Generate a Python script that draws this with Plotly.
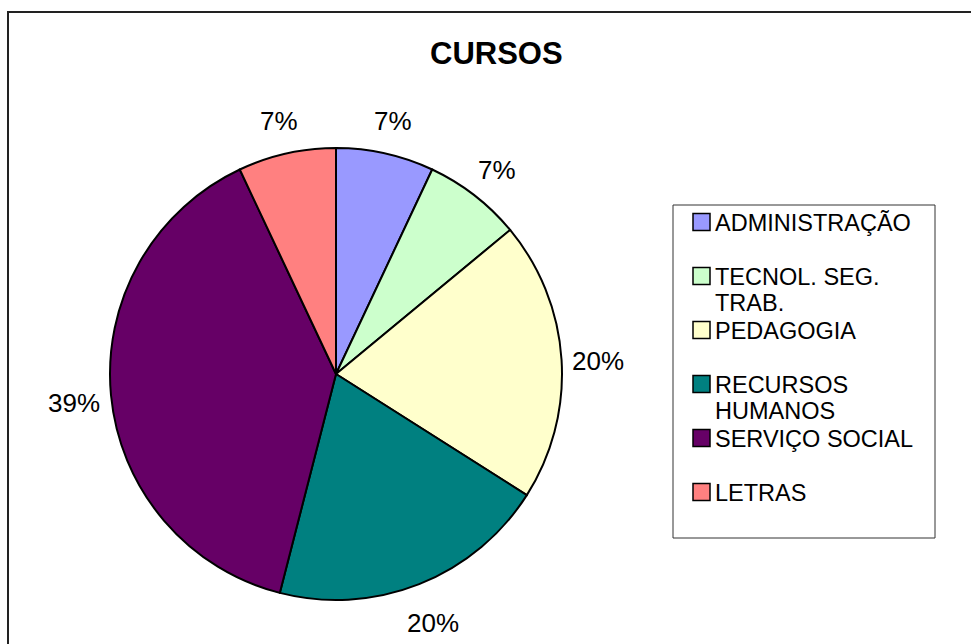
import math
import textwrap
import plotly.graph_objects as go

# ---- data ----
categories = ["ADMINISTRAÇÃO", "TECNOL. SEG. TRAB.", "PEDAGOGIA",
              "RECURSOS HUMANOS", "SERVIÇO SOCIAL", "LETRAS"]
values = [7, 7, 20, 20, 39, 7]
colors = ["#9999FF", "#CCFFCC", "#FFFFCC", "#008080", "#660066", "#FF8080"]
title_text = "CURSOS"

W, H = 971, 644
FONT = "Liberation Sans, Arial, sans-serif"

def px(x):
    return x / W

def py(y):
    return 1 - y / H

cx, cy, r = 336, 374, 226

fig = go.Figure(go.Pie(
    labels=categories, values=values, sort=False, direction="clockwise",
    rotation=0, marker=dict(colors=colors, line=dict(color="black", width=2)),
    textinfo="none", hoverinfo="label+percent", showlegend=False,
    domain=dict(x=[px(cx - r), px(cx + r)], y=[py(cy + r), py(cy - r)]),
))

annotations = []
# title
annotations.append(dict(x=px(496), y=py(54), xref="paper", yref="paper",
                        text="<b>" + title_text + "</b>", showarrow=False,
                        font=dict(family=FONT, size=31, color="black"),
                        xanchor="center", yanchor="middle"))

# percentage labels placed around the pie from the values
total = sum(values)
cum = 0
R_lab = 263
for v in values:
    mid = (cum + v / 2) / total * 2 * math.pi
    cum += v
    lx = cx + R_lab * math.sin(mid)
    ly = cy - R_lab * math.cos(mid) + 4
    annotations.append(dict(x=px(lx), y=py(ly), xref="paper", yref="paper",
                            text=f"{v / total * 100:.0f}%", showarrow=False,
                            font=dict(family=FONT, size=26, color="black"),
                            xanchor="center", yanchor="middle"))

shapes = []
# outer chart border (cropped at right/bottom)
shapes.append(dict(type="rect", xref="paper", yref="paper",
                   x0=px(8), x1=1.02, y0=-0.02, y1=py(12),
                   line=dict(color="#222222", width=2), fillcolor="rgba(0,0,0,0)"))
# legend box
shapes.append(dict(type="rect", xref="paper", yref="paper",
                   x0=px(673), x1=px(935), y0=py(538), y1=py(205),
                   line=dict(color="#333333", width=1), fillcolor="white"))

row0, row_gap, line_gap = 222, 54, 26
for i, (cat, col) in enumerate(zip(categories, colors)):
    yc = row0 + i * row_gap
    shapes.append(dict(type="rect", xref="paper", yref="paper",
                       x0=px(693), x1=px(710), y0=py(yc + 8.5), y1=py(yc - 8.5),
                       line=dict(color="black", width=1.5), fillcolor=col))
    for j, line in enumerate(textwrap.wrap(cat, 14)):
        annotations.append(dict(x=px(713), y=py(yc + 1 + j * line_gap), xref="paper",
                                yref="paper", text=line, showarrow=False,
                                font=dict(family=FONT, size=23.5, color="black"),
                                xanchor="left", yanchor="middle"))

fig.update_layout(width=W, height=H, margin=dict(l=0, r=0, t=0, b=0),
                  paper_bgcolor="white", plot_bgcolor="white",
                  annotations=annotations, shapes=shapes)

fig.write_html("out.html", config={"displayModeBar": False},
               post_script="document.body.style.margin='0';document.body.style.overflow='hidden';")
